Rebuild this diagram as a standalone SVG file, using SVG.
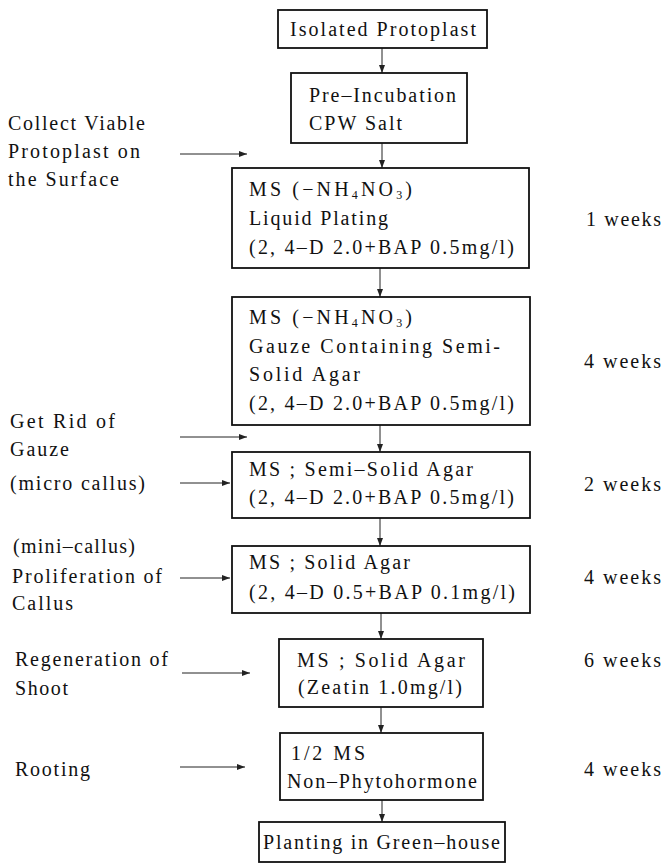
<svg xmlns="http://www.w3.org/2000/svg" width="669" height="867" viewBox="0 0 669 867">
<style>
text{font-family:"Liberation Serif","DejaVu Serif",serif;font-size:20px;fill:#111}
.box{fill:#fff;stroke:#111;stroke-width:1.8}
.conn{stroke:#222;stroke-width:1;fill:none}
.sub{font-size:12px}
</style>
<defs>
<marker id="ah" markerWidth="8" markerHeight="6" refX="8" refY="3" orient="auto" markerUnits="userSpaceOnUse"><path d="M0,0 L8,3 L0,6 z" fill="#222"/></marker>
</defs>
<rect width="669" height="867" fill="#fff"/>
<g id="connectors">
<line class="conn" x1="382" y1="48" x2="382" y2="73" marker-end="url(#ah)"/>
<line class="conn" x1="382" y1="143" x2="382" y2="168" marker-end="url(#ah)"/>
<line class="conn" x1="380" y1="268" x2="380" y2="297" marker-end="url(#ah)"/>
<line class="conn" x1="380" y1="425" x2="380" y2="452" marker-end="url(#ah)"/>
<line class="conn" x1="380" y1="518" x2="380" y2="546" marker-end="url(#ah)"/>
<line class="conn" x1="381" y1="613" x2="381" y2="639" marker-end="url(#ah)"/>
<line class="conn" x1="381" y1="707" x2="381" y2="733" marker-end="url(#ah)"/>
<line class="conn" x1="382" y1="800" x2="382" y2="822" marker-end="url(#ah)"/>
<line class="conn" x1="180" y1="154" x2="247" y2="154" marker-end="url(#ah)"/>
<line class="conn" x1="180" y1="437" x2="247" y2="437" marker-end="url(#ah)"/>
<line class="conn" x1="180" y1="483" x2="230" y2="483" marker-end="url(#ah)"/>
<line class="conn" x1="180" y1="578" x2="230" y2="578" marker-end="url(#ah)"/>
<line class="conn" x1="182" y1="673" x2="250" y2="673" marker-end="url(#ah)"/>
<line class="conn" x1="180" y1="767" x2="245" y2="767" marker-end="url(#ah)"/>
</g>
<g id="n1"><rect class="box" x="278" y="10" width="209" height="38"/><text x="290" y="36" textLength="186" lengthAdjust="spacing">Isolated Protoplast</text></g>
<g id="n2"><rect class="box" x="291" y="73" width="176" height="70"/><text x="309" y="102" textLength="147" lengthAdjust="spacing">Pre–Incubation</text><text x="309" y="130" textLength="93" lengthAdjust="spacing">CPW Salt</text></g>
<g id="n3"><rect class="box" x="232" y="168" width="297" height="100"/>
<text x="249" y="196" textLength="163" lengthAdjust="spacing">MS (−NH<tspan class="sub" dy="3">4</tspan><tspan dy="-3">NO</tspan><tspan class="sub" dy="3">3</tspan><tspan dy="-3">)</tspan></text>
<text x="249" y="225" textLength="139" lengthAdjust="spacing">Liquid Plating</text>
<text x="249" y="254" textLength="265" lengthAdjust="spacing">(2, 4–D 2.0+BAP 0.5mg/l)</text></g>
<g id="n4"><rect class="box" x="232" y="297" width="298" height="128"/>
<text x="249" y="324" textLength="163" lengthAdjust="spacing">MS (−NH<tspan class="sub" dy="3">4</tspan><tspan dy="-3">NO</tspan><tspan class="sub" dy="3">3</tspan><tspan dy="-3">)</tspan></text>
<text x="249" y="353" textLength="251" lengthAdjust="spacing">Gauze Containing Semi-</text>
<text x="249" y="381" textLength="111" lengthAdjust="spacing">Solid Agar</text>
<text x="249" y="410" textLength="265" lengthAdjust="spacing">(2, 4–D 2.0+BAP 0.5mg/l)</text></g>
<g id="n5"><rect class="box" x="232" y="452" width="298" height="66"/>
<text x="249" y="476" textLength="224" lengthAdjust="spacing">MS ;  Semi–Solid Agar</text>
<text x="249" y="504" textLength="265" lengthAdjust="spacing">(2, 4–D 2.0+BAP 0.5mg/l)</text></g>
<g id="n6"><rect class="box" x="232" y="546" width="298" height="67"/>
<text x="249" y="569" textLength="161" lengthAdjust="spacing">MS ;  Solid Agar</text>
<text x="249" y="599" textLength="266" lengthAdjust="spacing">(2, 4–D 0.5+BAP 0.1mg/l)</text></g>
<g id="n7"><rect class="box" x="279" y="639" width="204" height="68"/>
<text x="297" y="667" textLength="168" lengthAdjust="spacing">MS ;  Solid Agar</text>
<text x="298" y="694" textLength="164" lengthAdjust="spacing">(Zeatin 1.0mg/l)</text></g>
<g id="n8"><rect class="box" x="280" y="733" width="203" height="67"/>
<text x="291" y="760" textLength="74" lengthAdjust="spacing">1/2 MS</text>
<text x="287" y="788" textLength="190" lengthAdjust="spacing">Non–Phytohormone</text></g>
<g id="n9"><rect class="box" x="259" y="822" width="246" height="40"/>
<text x="263" y="849" textLength="237" lengthAdjust="spacing">Planting in Green–house</text></g>
<g id="left-labels">
<text x="8" y="130" textLength="137" lengthAdjust="spacing">Collect Viable</text>
<text x="8" y="158" textLength="132" lengthAdjust="spacing">Protoplast on</text>
<text x="8" y="186" textLength="111" lengthAdjust="spacing">the Surface</text>
<text x="10" y="428" textLength="105" lengthAdjust="spacing">Get Rid of</text>
<text x="10" y="456" textLength="59" lengthAdjust="spacing">Gauze</text>
<text x="10" y="490" textLength="135" lengthAdjust="spacing">(micro callus)</text>
<text x="13" y="553" textLength="122" lengthAdjust="spacing">(mini–callus)</text>
<text x="12" y="583" textLength="150" lengthAdjust="spacing">Proliferation of</text>
<text x="12" y="610" textLength="61" lengthAdjust="spacing">Callus</text>
<text x="15" y="666" textLength="153" lengthAdjust="spacing">Regeneration of</text>
<text x="15" y="695" textLength="53" lengthAdjust="spacing">Shoot</text>
<text x="15" y="776" textLength="75" lengthAdjust="spacing">Rooting</text>
</g>
<g id="durations">
<text x="586" y="226" textLength="75" lengthAdjust="spacing">1 weeks</text>
<text x="584" y="368" textLength="77" lengthAdjust="spacing">4 weeks</text>
<text x="584" y="491" textLength="77" lengthAdjust="spacing">2 weeks</text>
<text x="584" y="584" textLength="77" lengthAdjust="spacing">4 weeks</text>
<text x="584" y="667" textLength="77" lengthAdjust="spacing">6 weeks</text>
<text x="584" y="776" textLength="77" lengthAdjust="spacing">4 weeks</text>
</g>
</svg>
